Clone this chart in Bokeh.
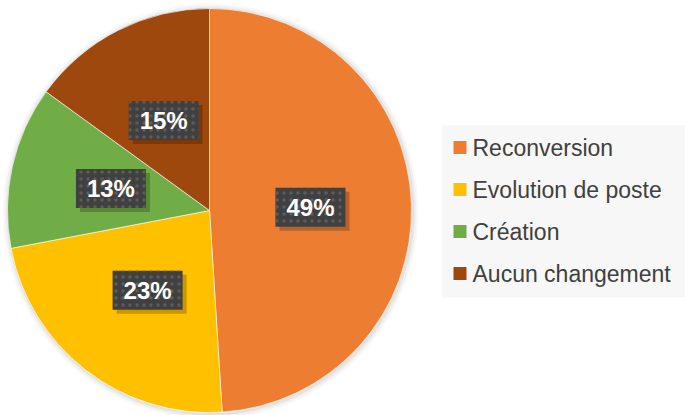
import math
from bokeh.plotting import figure
from bokeh.models import ColumnDataSource
from bokeh.core.properties import value
from bokeh.embed import file_html
from bokeh.resources import INLINE

categories = ["Reconversion", "Evolution de poste", "Création", "Aucun changement"]
shares = [49, 23, 13, 15]
colors = ["#ED7D31", "#FFC000", "#70AD47", "#9E480E"]
labels = ["49%", "23%", "13%", "15%"]

W, H = 685, 415
p = figure(width=W, height=H, x_range=(0, W), y_range=(0, H),
           output_backend="svg", toolbar_location=None, min_border=0)
p.axis.visible = False
p.grid.visible = False
p.outline_line_color = None
p.background_fill_color = "white"
p.border_fill_color = "white"

cx, cy, R = 209, 205, 202

# soft halo / shadow around pie
for i, a in [(6, 0.025), (4, 0.035), (2, 0.05)]:
    p.circle(x=cx + 1, y=cy - 1, radius=R + i, fill_color="black", fill_alpha=a, line_color=None)

total = sum(shares)
starts, ends, mids = [], [], []
acc = 0.0
for s in shares:
    a0 = math.pi / 2 - 2 * math.pi * acc / total
    acc += s
    a1 = math.pi / 2 - 2 * math.pi * acc / total
    starts.append(a0)
    ends.append(a1)
    mids.append((a0 + a1) / 2)

src = ColumnDataSource(dict(start=starts, end=ends, color=colors, cat=categories))
p.wedge(x=cx, y=cy, radius=R, start_angle="start", end_angle="end", direction="clock",
        fill_color="color", line_color="white", line_width=0.6, source=src)

lx = [cx + 0.5 * R * math.cos(m) for m in mids]
ly = [cy + 0.5 * R * math.sin(m) for m in mids]
lab = ColumnDataSource(dict(x=lx, y=ly, sx=[v + 4 for v in lx], sy=[v - 4 for v in ly], t=labels))

# label shadows
p.rect(x="sx", y="sy", width=70, height=39, fill_color="black", fill_alpha=0.22,
       line_color=None, source=lab)
# label boxes
p.rect(x="x", y="y", width=70, height=39, fill_color="#404040", line_color=None,
       hatch_pattern=".", hatch_color="#5c5c5c", hatch_scale=7, hatch_weight=1.5,
       source=lab)
p.text(x="x", y="y", text="t", text_font=value("Liberation Sans"), text_font_style="bold",
       text_font_size="24px", text_color="white", text_align="center",
       text_baseline="middle", source=lab)

# legend
p.quad(left=441, right=W + 5, top=290, bottom=118, fill_color="#F7F7F7",
       line_color=None)
ly0 = 268
leg = ColumnDataSource(dict(x=[459.5] * len(categories),
                            tx=[472] * len(categories),
                            y=[ly0 - 42 * i for i in range(len(categories))],
                            c=colors, t=categories))
p.rect(x="x", y="y", width=13, height=13, fill_color="c", line_color=None, source=leg)
p.text(x="tx", y="y", text="t", text_font=value("Liberation Sans"),
       text_font_size="23px", text_color="#404040", text_align="left",
       text_baseline="middle", source=leg)

open("out.html", "w").write(file_html(p, INLINE))
